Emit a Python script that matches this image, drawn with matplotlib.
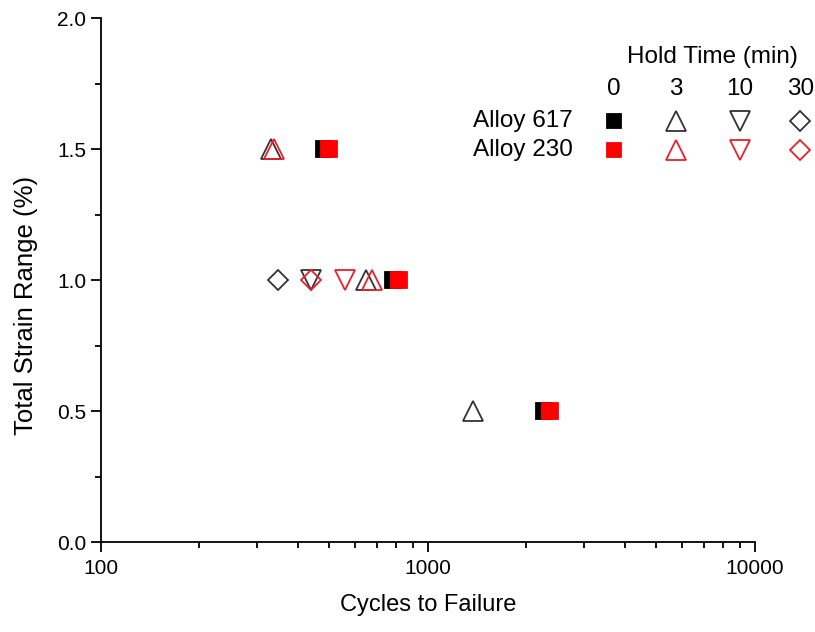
import matplotlib
matplotlib.use("Agg")
import matplotlib.pyplot as plt
from matplotlib.ticker import FixedLocator, NullFormatter

plt.rcParams['font.family'] = ['Liberation Sans', 'DejaVu Sans']

# Data: cycles to failure vs total strain range
a617_h0_x = [481, 782, 2265]
a617_h0_y = [1.5, 1.0, 0.5]
a230_h0_x = [497, 818, 2362]
a230_h0_y = [1.5, 1.0, 0.5]
a617_h3_x = [331, 646, 1374]
a617_h3_y = [1.5, 1.0, 0.5]
a230_h3_x = [338, 674]
a230_h3_y = [1.5, 1.0]
a617_h10_x = [439]
a617_h10_y = [1.0]
a230_h10_x = [557]
a230_h10_y = [1.0]
a617_h30_x = [348]
a617_h30_y = [1.0]
a230_h30_x = [439]
a230_h30_y = [1.0]

hold_times = ["0", "3", "10", "30"]
alloys = ["Alloy 617", "Alloy 230"]
xticks = [100, 1000, 10000]
xticklabels = ["100", "1000", "10000"]
yticks = [0.0, 0.5, 1.0, 1.5, 2.0]

BLACK = "black"
GREY = "#333333"
RED = "#ff0000"
RED_E = "#e8202a"

fig = plt.figure(figsize=(8.15, 6.32), dpi=100)
ax = fig.add_axes([0.124, 0.1424, 0.802, 0.8291])

mk = dict(linestyle='none', markeredgewidth=1.3)
# black series
ax.plot(a617_h0_x, a617_h0_y, marker='s', ms=11, color=BLACK, **mk)
ax.plot(a617_h3_x, a617_h3_y, marker='^', ms=14, mfc='none', mec=GREY, **mk)
ax.plot(a617_h10_x, a617_h10_y, marker='v', ms=14, mfc='none', mec=GREY, **mk)
ax.plot(a617_h30_x, a617_h30_y, marker='D', ms=10, mfc='none', mec=GREY, **mk)
# red series
ax.plot(a230_h0_x, a230_h0_y, marker='s', ms=11, color=RED, **mk)
ax.plot(a230_h3_x, a230_h3_y, marker='^', ms=14, mfc='none', mec=RED_E, **mk)
ax.plot(a230_h10_x, a230_h10_y, marker='v', ms=14, mfc='none', mec=RED_E, **mk)
ax.plot(a230_h30_x, a230_h30_y, marker='D', ms=10, mfc='none', mec=RED_E, **mk)

ax.set_xscale('log')
ax.set_xlim(100, 10000)
ax.set_ylim(0, 2.0)
ax.set_xticks(xticks)
ax.set_xticklabels(xticklabels)
ax.xaxis.set_minor_formatter(NullFormatter())
ax.set_yticks(yticks)
ax.set_yticklabels([f"{v:.1f}" for v in yticks])
ax.yaxis.set_minor_locator(FixedLocator([0.25, 0.75, 1.25, 1.75]))

for s in ['top', 'right']:
    ax.spines[s].set_visible(False)
for s in ['left', 'bottom']:
    ax.spines[s].set_linewidth(1.3)
ax.tick_params(which='major', direction='out', length=7, width=1.3, labelsize=15)
ax.tick_params(which='minor', direction='out', length=4, width=1.3)
ax.tick_params(axis='x', pad=5)

ax.set_xlabel("Cycles to Failure", fontsize=17, labelpad=12)
ax.set_ylabel("Total Strain Range (%)", fontsize=18.5)
ax.yaxis.set_label_coords(-0.097, 0.452)

# custom table legend
col_x = [0.784, 0.879, 0.977, 1.070]
row_y = [0.803, 0.748]
head_y = 0.864
ax.text(0.936, 0.926, "Hold Time (min)", transform=ax.transAxes, fontsize=17.5,
        ha='center', va='center')
for hx, ht in zip(col_x, hold_times):
    ax.text(hx, head_y, ht, transform=ax.transAxes, fontsize=17.5, ha='center', va='center')
for ry, al in zip(row_y, alloys):
    ax.text(0.722, ry, al, transform=ax.transAxes, fontsize=17.5, ha='right', va='center')

leg_markers = ['s', '^', 'v', 'D']
leg_sizes = [10.5, 14, 14, 10]
for ri, (ry, ec) in enumerate(zip(row_y, [GREY, RED_E])):
    for ci, (cx, m, ms) in enumerate(zip(col_x, leg_markers, leg_sizes)):
        if ci == 0:
            fc = BLACK if ri == 0 else RED
            ecol = fc
        else:
            fc = 'none'
            ecol = ec
        ax.plot([cx], [ry], marker=m, ms=ms, mfc=fc, mec=ecol, linestyle='none',
                markeredgewidth=1.3, transform=ax.transAxes, clip_on=False)

fig.savefig("out.png", dpi=100)
